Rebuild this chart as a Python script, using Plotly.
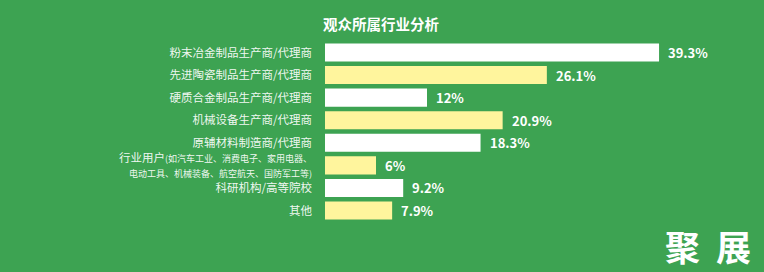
import plotly.graph_objects as go

categories = [
    "粉末冶金制品生产商/代理商",
    "先进陶瓷制品生产商/代理商",
    "硬质合金制品生产商/代理商",
    "机械设备生产商/代理商",
    "原辅材料制造商/代理商",
    "行业用户<span style='font-size:9px'>(如汽车工业、消费电子、家用电器、</span><br><span style='font-size:9px'>电动工具、机械装备、航空航天、国防军工等)</span>",
    "科研机构/高等院校",
    "其他",
]
values = [39.3, 26.1, 12, 20.9, 18.3, 6, 9.2, 7.9]
value_labels = ["39.3%", "26.1%", "12%", "20.9%", "18.3%", "6%", "9.2%", "7.9%"]
bar_colors = ["#FFFFFF", "#FFF59D", "#FFFFFF", "#FFF59D", "#FFFFFF", "#FFF59D", "#FFFFFF", "#FFF59D"]
logo_chars = ["聚", "展"]

BG = "#3DA352"
FONT = "Noto Sans CJK SC"

W, H = 764, 272
ML, MR, MT, MB = 325, 0, 41, 50
plot_w = W - ML - MR
plot_h = H - MT - MB


def px_to_paper(px, py):
    return (px - ML) / plot_w, (H - MB - py) / plot_h


fig = go.Figure()
fig.add_trace(go.Bar(
    x=values,
    y=categories,
    orientation="h",
    marker=dict(color=bar_colors, line=dict(width=0)),
    hoverinfo="skip",
))

for v, c, lab in zip(values, categories, value_labels):
    fig.add_annotation(
        x=v, y=c, xref="x", yref="y",
        text=lab, showarrow=False,
        xanchor="left", yanchor="middle", xshift=7,
        font=dict(family=FONT, size=13, color="#FFFFFF", weight="bold"),
    )

tx, ty = px_to_paper(381, 24)
fig.add_annotation(
    x=tx, y=ty, xref="paper", yref="paper", xanchor="center", yanchor="middle",
    text="<b>观众所属行业分析</b>", showarrow=False,
    font=dict(family=FONT, size=14.5, color="#FFFFFF"),
)

for ch, cx in zip(logo_chars, [682, 733]):
    lx, ly = px_to_paper(cx, 245)
    fig.add_annotation(
        x=lx, y=ly, xref="paper", yref="paper", text="<b>" + ch + "</b>", showarrow=False,
        xanchor="center", yanchor="middle",
        font=dict(family=FONT, size=35, color="#FFFFFF"),
    )

fig.update_layout(
    width=W, height=H,
    margin=dict(l=ML, r=MR, t=MT, b=MB),
    paper_bgcolor=BG, plot_bgcolor=BG,
    bargap=0.2,
    showlegend=False,
    font=dict(family=FONT, size=11.5, color="rgba(255,255,255,0.93)"),
    xaxis=dict(range=[0, plot_w / 8.5], visible=False, fixedrange=True),
    yaxis=dict(autorange="reversed", showgrid=False, zeroline=False, showline=False,
               ticks="", ticklabelstandoff=12,
               tickfont=dict(family=FONT, size=11.5, color="rgba(255,255,255,0.93)")),
)

fig.write_html("out.html")
